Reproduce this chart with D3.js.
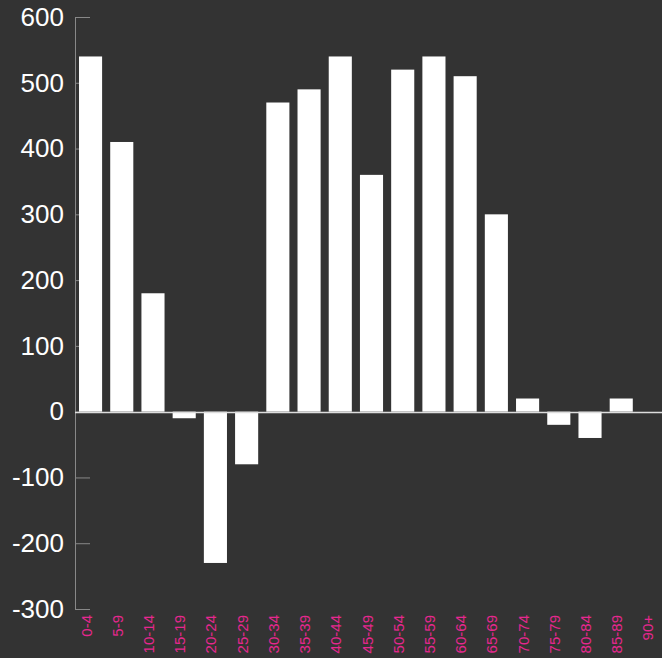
<!DOCTYPE html>
<html>
<head>
<meta charset="utf-8">
<script src="https://cdn.jsdelivr.net/npm/d3@7"></script>
<style>
    html, body { margin: 0; padding: 0; background: #333333; }
    svg { display: block; }
</style>
</head>
<body>
<svg id="chart" width="662" height="658"></svg>
<script>
const ageGroups = ['0-4', '5-9', '10-14', '15-19', '20-24', '25-29', '30-34', '35-39', '40-44',
    '45-49', '50-54', '55-59', '60-64', '65-69', '70-74', '75-79', '80-84', '85-89', '90+'];
const values = [540, 410, 180, -10, -230, -80, 470, 490, 540, 360, 520, 540, 510, 300, 20, -20, -40, 20, 0];
const yTicks = [-300, -200, -100, 0, 100, 200, 300, 400, 500, 600];

const width = 662;
const height = 658;
const margin = { top: 17, right: 0, bottom: 49, left: 75 };

const svg = d3.select('#chart');

const x = d3.scaleBand()
    .domain(ageGroups)
    .range([79, 664])
    .paddingInner(0.26)
    .paddingOuter(0);

const y = d3.scaleLinear()
    .domain([-300, 600])
    .range([height - margin.bottom, margin.top]);

// y axis, ticks pointing into the plot
const yAxe = d3.axisLeft(y)
    .tickValues(yTicks)
    .tickFormat(d => String(d))
    .tickSizeInner(-15)
    .tickSizeOuter(-15)
    .tickPadding(11);

const axisG = svg.append('g')
    .attr('transform', `translate(${margin.left},0)`)
    .call(yAxe);

axisG.select('.domain').attr('stroke', '#888');
axisG.selectAll('.tick line').attr('stroke', '#888');
axisG.selectAll('.tick text')
    .attr('fill', '#ffffff')
    .attr('font-family', 'Liberation Sans, Arial, sans-serif')
    .attr('font-size', 26);

// bars
svg.append('g')
    .selectAll('rect')
    .data(values)
    .enter()
    .append('rect')
    .attr('x', (d, i) => x(ageGroups[i]))
    .attr('width', x.bandwidth())
    .attr('y', d => y(Math.max(d, 0)))
    .attr('height', d => Math.abs(y(d) - y(0)))
    .attr('fill', '#ffffff');

// zero line
const zeroY = Math.round(y(0)) + 0.5;
svg.append('line')
    .attr('x1', margin.left)
    .attr('x2', width)
    .attr('y1', zeroY)
    .attr('y2', zeroY)
    .attr('stroke', '#dddddd')
    .attr('stroke-width', 1.5);

// category labels
svg.append('g')
    .selectAll('text')
    .data(ageGroups)
    .enter()
    .append('text')
    .attr('transform', d => `translate(${x(d) + x.bandwidth() / 2 + 1},${y(-300) + 6}) rotate(-90)`)
    .attr('text-anchor', 'end')
    .attr('fill', '#e6278f')
    .attr('font-family', 'Liberation Sans, Arial, sans-serif')
    .attr('font-size', 15)
    .text(d => d);
</script>
</body>
</html>
